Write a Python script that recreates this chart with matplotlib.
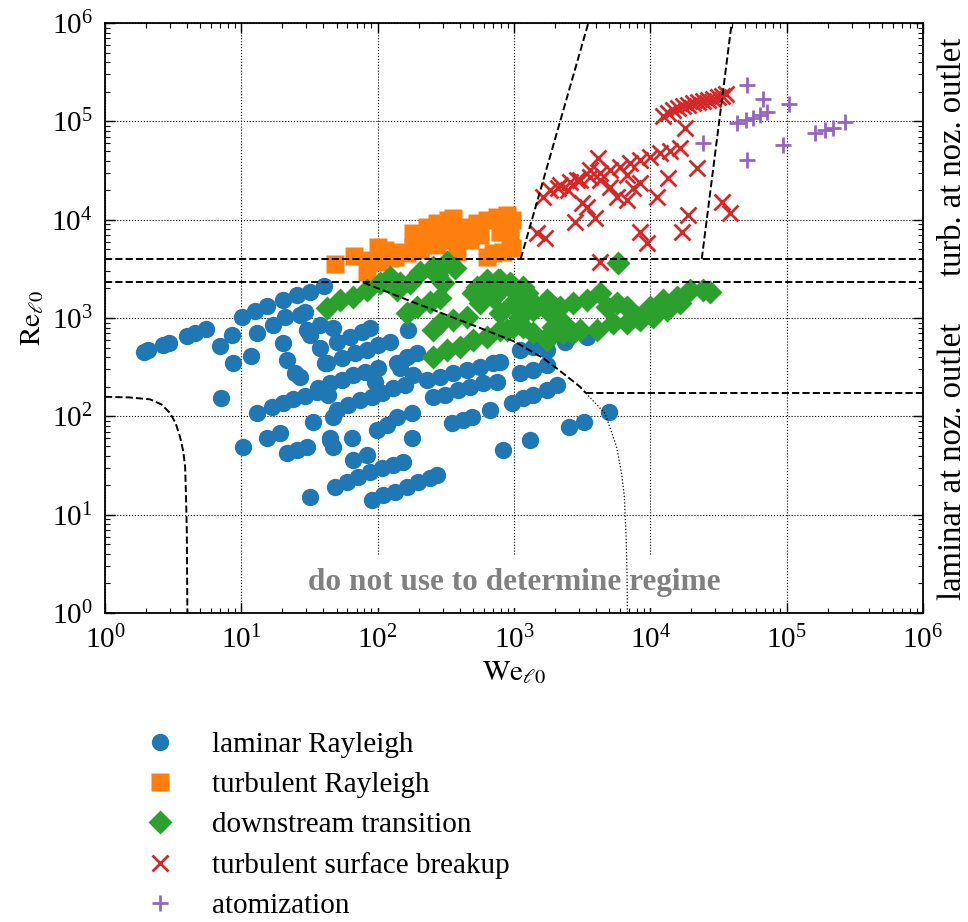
import numpy as np
import matplotlib
matplotlib.use("Agg")
import matplotlib.pyplot as plt
from matplotlib import transforms

plt.rcParams.update({
    "font.family": "serif",
    "font.serif": ["Liberation Serif", "DejaVu Serif"],
    "mathtext.fontset": "stix",
    "font.size": 21,
})

# ---- data (We_l0, Re_l0) ----
lam_we = [1.93, 2.07, 2.67, 2.95, 4.0, 4.57, 5.5, 7.1, 10.3, 6.98, 8.55, 8.69, 11.8,
          10.1, 12.6, 15.5, 20.2, 25.6, 31.9, 40.5, 13.0, 17.1, 20.9, 27.0,
          20.2, 21.6, 24.8, 31.9, 37.8, 41.1,
          13.0, 16.8, 20.2, 23.9, 29.3, 35.9, 43.3, 15.5, 19.2, 21.6, 25.6, 30.3,
          33.6, 47.1, 44.8, 47.1, 31.9,
          29.3, 30.3, 37.8, 47.1, 50.4, 62.7, 76.9, 87.9,
          42.6, 54.8, 68.2, 83.6, 101, 123, 101, 27.0,
          36.6, 44.8, 54.8, 66.1, 80.9, 95.7,
          50.4, 60.7, 74.3, 91.0, 108, 130, 159,
          44.8, 64.9, 66.1, 83.6, 99, 117, 139, 179, 179,
          48.8, 59.7, 71.8, 87.9, 108, 130, 153,
          91, 110, 134, 164, 198, 242, 273,
          139, 164, 195, 167, 146, 182,
          230, 287, 357, 453, 564, 703, 791,
          255, 312, 389, 476, 593, 752,
          352, 424, 493, 668, 832,
          968, 1167, 1380, 1750, 2070, 1312,
          1109, 1380, 1750, 1109, 1380, 1750,
          2535, 3266, 4989, 2371, 3436]
lam_re = [454, 473, 532, 558, 658, 705, 774, 154, 48.9, 520, 673, 349, 411,
          1026, 1180, 1327, 1528, 1718, 1845, 2123, 705, 851, 1026, 1076,
          558, 375, 277, 673, 497, 349,
          108, 125, 137, 150, 161, 177, 165, 60.3, 67.8, 42.5, 45.5, 48.9,
          87.7, 98.6, 57.5, 48.9, 15.1,
          1153, 757, 851, 793, 571, 643, 723, 793,
          349, 393, 442, 473, 532, 571, 310, 252,
          195, 219, 234, 264, 283, 224,
          116, 131, 147, 157, 173, 195, 208,
          60.3, 60.3, 36, 40.5, 72.8, 81.8, 98.6, 108, 60.3,
          19.1, 21.5, 24.2, 27.2, 29.9, 32.1, 34.4,
          14.1, 15.8, 17, 19.1, 21.5, 23.6, 25.4,
          349, 402, 442, 757, 310, 264,
          234, 252, 277, 296, 318, 349, 357,
          157, 165, 186, 199, 219, 224,
          85.7, 91.8, 98.6, 116, 45.5,
          137, 154, 165, 186, 208, 57.5,
          277, 296, 333, 473, 508, 473,
          78, 87.7, 111, 571, 643]

turb_we = [48.8, 67.1, 83.6, 87.9, 101, 101, 113, 123, 134, 146, 164, 182, 182,
           205, 205, 230, 242, 273, 273, 302, 312, 328, 357, 383, 383, 416, 453,
           476, 536, 564, 635, 635, 703, 752, 791, 832, 889, 935, 935, 968, 968]
turb_re = [3550, 4290, 2940, 3900, 5290, 3720, 4930, 4090, 4190, 4700, 4590, 5290, 7340,
           6220, 4930, 8450, 6680, 9270, 5540, 6220, 7870, 9950, 10400, 6220, 4700, 7520, 8450,
           6220, 9270, 7000, 9950, 4190, 4590, 10700, 7520, 4700, 11200, 8450, 6680, 5170, 9950]

down_we = [42.6, 53, 66.1, 83.6, 104, 123, 146,
           139, 173, 205, 255, 323, 370,
           164, 195, 242, 287, 302, 273,
           255, 287, 357, 453, 564, 703, 791, 935,
           501, 635, 536, 635, 791,
           791, 984, 1167, 1380, 1750, 1936, 1167, 1750,
           255, 323, 403, 501, 635, 791, 984, 1109, 1380, 1750, 1380, 1750, 2070, 2455, 2716,
           889, 1167, 1750, 2291, 3055, 4070, 5330, 6760, 8410, 10500, 13300, 16600,
           764, 668, 984, 1247, 1476, 1841, 2178, 2716, 3436, 4285, 4820, 5700, 6760,
           8000, 9970, 12400, 15700, 19600, 24400, 27500,
           5800]
down_re = [1267, 1528, 1640, 1930, 2280, 2620, 2280,
           1930, 2280, 2940, 3310, 3720, 3230,
           1127, 1297, 1460, 1600, 2280, 2740,
           757, 891, 957, 1026, 1425, 1640, 1930, 2280,
           1800, 1930, 2070, 2440, 2440,
           1127, 1425, 1640, 1425, 1208, 811, 2070, 1528,
           402, 473, 508, 598, 643, 757, 811, 1026, 1208, 1360, 705, 643, 1026, 811, 705,
           757, 811, 598, 705, 757, 757, 891, 891, 957, 1026, 1208, 1425,
           2440, 1800, 1930, 1800, 1297, 1425, 1297, 1425, 1528, 1800, 1297, 1425, 1297,
           1026, 1297, 1528, 1640, 1930, 1930, 1845,
           3640]

surf_we = [12400, 13520, 14690, 16000, 17400, 18930, 20600, 22400, 24400, 26500,
           28900, 31400, 33600, 36000, 18000,
           1841, 2178, 2582, 3055, 3614, 4285, 5070, 6000, 7110, 8410, 9970, 11800,
           13970, 16560,
           1635, 1476, 1690, 2806, 3936, 3162, 3436, 2904, 4140, 4285, 5700, 6760,
           7480, 8410, 5070, 11220, 13520, 22000, 8410, 9460, 17100, 18930, 33600,
           38500, 4285, 2107, 2494, 3614, 6760]
surf_re = [113700, 122000, 130900, 137100, 143900, 147200, 154200, 157800, 161500,
           165300, 169400, 177500, 182000, 190500, 85900,
           20100, 22600, 24300, 25400, 27200, 29900, 32100, 34400, 37800, 40600, 43600,
           47900, 50100, 53700,
           17100, 7340, 6530, 9500, 10400, 14800, 13500, 25400, 42600, 25400, 17100,
           15900, 21100, 23700, 21600, 17100, 26600, 33700, 7520, 5800, 7520, 11200,
           15200, 11700, 3720, 21100, 20100, 32100, 28600]

atom_we = [51300, 67300, 104200, 72000, 64000, 56700, 50400, 43300, 24400, 51300,
           94300, 161800, 191400, 219400, 268600]
atom_re = [235000, 169400, 150700, 125000, 116400, 108600, 103800, 96600, 60400,
           40600, 57700, 76400, 82000, 85900, 98900]

# regime boundaries
low_we = [1.0, 1.5, 2.14, 2.6, 3.0, 3.3, 3.55, 3.75, 3.87, 3.93, 3.98, 4.02]
low_re = [158, 156, 149, 132, 108, 85, 62, 44, 30.8, 15, 7, 1]
mid_we = [79, 178, 533, 1000, 1644, 2061, 3055, 3380]
mid_re = [2290, 1469, 818, 580, 390, 308, 200, 172]
tail_we = [3380, 4670, 5670, 6200, 6460, 6650, 6760, 6800]
tail_re = [172, 107, 49, 25, 15.2, 6, 2.5, 1]
left_we = [1122, 3515]
left_re = [4000, 1e6]
right_we = [23900, 39600]
right_re = [4000, 1e6]
re_turb = 4000
re_crit = 2300
re_lam = 172
we_lam = 3380

fig = plt.figure(figsize=(9.68, 9.22), dpi=100)
ax = fig.add_axes([0.1085, 0.3351, 0.8448, 0.6399])
ax.set_xscale("log")
ax.set_yscale("log")

ax.plot(lam_we, lam_re, "o", ms=12.5, color="#1f77b4", mec="none", label="laminar Rayleigh")
ax.plot(turb_we, turb_re, "s", ms=12.5, color="#ff7f0e", mec="none", label="turbulent Rayleigh")
ax.plot(down_we, down_re, "D", ms=12.5, color="#2ca02c", mec="none", label="downstream transition")
ax.plot(surf_we, surf_re, "x", ms=12, mew=2, color="#d62728", label="turbulent surface breakup")
ax.plot(atom_we, atom_re, "+", ms=12, mew=2, color="#9467bd", label="atomization")

# boundaries
dash = dict(color="k", ls="--", lw=1.4)
ax.axhline(re_turb, **dash)
ax.axhline(re_crit, **dash)
ax.plot([we_lam, 1e6], [re_lam, re_lam], **dash)
ax.plot(low_we, low_re, **dash)
ax.plot(mid_we, mid_re, **dash)
ax.plot(left_we, left_re, **dash)
ax.plot(right_we, right_re, **dash)
ax.plot(tail_we, tail_re, color="k", ls=":", lw=0.9, zorder=3)

ax.set_xlim(1, 1e6)
ax.set_ylim(1, 1e6)
ax.grid(True, which="major", ls=":", color="k", lw=0.8)
ax.tick_params(which="both", direction="in", top=True, right=True, labelsize=21)
ax.tick_params(which="major", length=7, width=1, pad=9)
ax.tick_params(which="minor", length=3.5, width=0.8)
for s in ax.spines.values():
    s.set_linewidth(1.3)

ax.set_xlabel(r"$\mathrm{We}_{\ell 0}$", fontsize=21)
ax.set_ylabel(r"$\mathrm{Re}_{\ell 0}$", fontsize=21)

ax.text(0.5, 0.0525, "do not use to determine regime", transform=ax.transAxes,
        ha="center", va="center", fontsize=22.5, fontweight="bold", color="gray",
        zorder=2.5, bbox=dict(facecolor="white", edgecolor="none", pad=8))

trans = transforms.blended_transform_factory(ax.transAxes, ax.transData)
ax.text(1.037, 4.4e4, "turb. at noz. outlet", transform=trans, rotation=90,
        ha="center", va="center", fontsize=23.5)
ax.text(1.037, 35, "laminar at noz. outlet", transform=trans, rotation=90,
        ha="center", va="center", fontsize=23.5)

ax.legend(loc="upper left", bbox_to_anchor=(0.135, 0.2065), bbox_transform=fig.transFigure,
          frameon=False, numpoints=1, borderpad=0, borderaxespad=0,
          handlelength=2.0, handletextpad=0.8, labelspacing=0.47, fontsize=21)

fig.savefig("out.png", dpi=100)
